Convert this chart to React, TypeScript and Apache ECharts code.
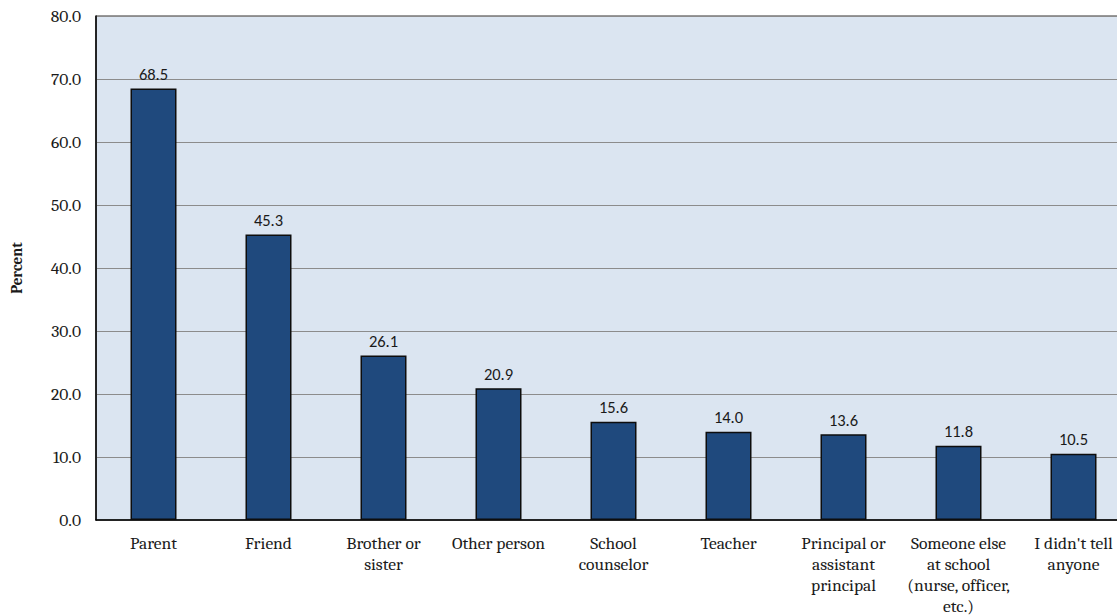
import React, { useEffect, useRef } from "react";
import * as echarts from "echarts";

const categories = [
  "Parent",
  "Friend",
  "Brother or\nsister",
  "Other person",
  "School\ncounselor",
  "Teacher",
  "Principal or\nassistant\nprincipal",
  "Someone else\nat school\n(nurse, officer,\netc.)",
  "I didn't tell\nanyone",
];
const values = [68.5, 45.3, 26.1, 20.9, 15.6, 14.0, 13.6, 11.8, 10.5];
const yMin = 0;
const yMax = 80;
const yInterval = 10;

const serif = "Cambria, 'DejaVu Serif', 'Liberation Serif', serif";
const sans = "Calibri, 'Open Sans', 'Liberation Sans', sans-serif";

export default function App() {
  const ref = useRef<HTMLDivElement>(null);
  useEffect(() => {
    document.body.style.margin = "0";
    document.body.style.overflow = "hidden";
    const chart = echarts.init(ref.current!, null, { renderer: "svg" });
    chart.setOption({
      animation: false,
      backgroundColor: "#ffffff",
      grid: {
        left: 96,
        top: 16,
        bottom: 95,
        right: 9,
        outerBoundsMode: "none",
        containLabel: false,
        show: true,
        backgroundColor: "#dbe5f1",
        borderColor: "#333333",
        borderWidth: 1,
      },
      xAxis: {
        type: "category",
        data: categories,
        axisLine: { show: true, lineStyle: { color: "#000000", width: 1.5 } },
        axisTick: { show: false },
        axisLabel: {
          interval: 0,
          color: "#1a1a1a",
          fontFamily: serif,
          fontSize: 17.5,
          lineHeight: 21,
          margin: 12,
        },
      },
      yAxis: {
        type: "value",
        min: yMin,
        max: yMax,
        interval: yInterval,
        name: "Percent",
        nameLocation: "middle",
        nameGap: 72,
        nameTextStyle: {
          fontFamily: serif,
          fontWeight: "bold",
          fontSize: 15,
          color: "#1a1a1a",
        },
        axisLine: { show: true, lineStyle: { color: "#000000", width: 1.5 } },
        axisTick: { show: false },
        splitLine: { show: true, lineStyle: { color: "#8c8c8c", width: 1.2 } },
        axisLabel: {
          formatter: (v: number) => v.toFixed(1),
          color: "#1a1a1a",
          fontFamily: serif,
          fontSize: 17.5,
          margin: 15,
        },
      },
      series: [
        {
          type: "bar",
          data: values,
          barWidth: "40%",
          itemStyle: {
            color: "#1f497d",
            borderColor: "#0d0d0d",
            borderWidth: 1.5,
          },
          label: {
            show: true,
            position: "top",
            distance: 6,
            formatter: (p: any) => Number(p.value).toFixed(1),
            fontFamily: sans,
            fontSize: 16.5,
            color: "#1a1a1a",
          },
        },
      ],
    });
    return () => chart.dispose();
  }, []);
  return (
    <div
      style={{
        position: "fixed",
        left: 0,
        top: 0,
        width: 1117,
        height: 615,
        overflow: "hidden",
        background: "#fff",
      }}
    >
      <div ref={ref} style={{ width: 1140, height: 615 }} />
    </div>
  );
}
